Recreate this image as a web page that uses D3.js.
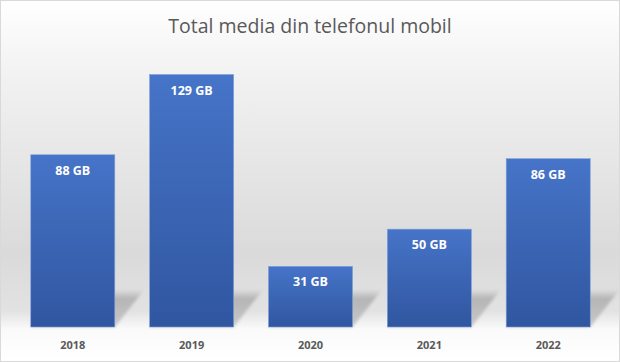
<!DOCTYPE html>
<html>
<head>
<meta charset="utf-8">
<script src="https://cdn.jsdelivr.net/npm/d3@7"></script>
<style>
  body { margin: 0; background: #fff; }
  svg { display: block; }
</style>
</head>
<body>
<svg id="chart"></svg>
<script>
var years = ['2018', '2019', '2020', '2021', '2022'];
var values = [88, 129, 31, 50, 86];
var labels = ['88 GB', '129 GB', '31 GB', '50 GB', '86 GB'];

var width = 620, height = 362;

var svg = d3.select('#chart')
	.attr('width', width)
	.attr('height', height);

var defs = svg.append('defs');

// background gradient, white at top, grey in the middle, white floor
var bg = defs.append('linearGradient')
	.attr('id', 'bg')
	.attr('x1', 0).attr('y1', 0).attr('x2', 0).attr('y2', 1);
bg.append('stop').attr('offset', '0%').attr('stop-color', '#ffffff');
bg.append('stop').attr('offset', '20%').attr('stop-color', '#f2f2f2');
bg.append('stop').attr('offset', '70%').attr('stop-color', '#dadada');
bg.append('stop').attr('offset', '86%').attr('stop-color', '#e2e2e2');
bg.append('stop').attr('offset', '91%').attr('stop-color', '#fafafa');
bg.append('stop').attr('offset', '100%').attr('stop-color', '#ffffff');

var barGrad = defs.append('linearGradient')
	.attr('id', 'bar')
	.attr('x1', 0).attr('y1', 0).attr('x2', 0).attr('y2', 1);
barGrad.append('stop').attr('offset', '0%').attr('stop-color', '#4674c8');
barGrad.append('stop').attr('offset', '100%').attr('stop-color', '#3056a0');

var shGrad = defs.append('linearGradient')
	.attr('id', 'sh')
	.attr('x1', 0).attr('y1', 0).attr('x2', 0).attr('y2', 1);
shGrad.append('stop').attr('offset', '0%').attr('stop-color', '#bdbdbd').attr('stop-opacity', 0);
shGrad.append('stop').attr('offset', '25%').attr('stop-color', '#b5b5b5').attr('stop-opacity', 1);
shGrad.append('stop').attr('offset', '100%').attr('stop-color', '#c4c4c4').attr('stop-opacity', 0.9);

defs.append('filter').attr('id', 'blur')
	.append('feGaussianBlur').attr('stdDeviation', 1.5);

svg.append('rect')
	.attr('x', 0.5).attr('y', 0.5)
	.attr('width', width - 1).attr('height', height - 1)
	.attr('fill', 'url(#bg)')
	.attr('stroke', '#d9d9d9');

var x = d3.scaleBand()
	.domain(years)
	.range([7, 614])
	.paddingInner(0.293)
	.paddingOuter(0.2);

var y = d3.scaleLinear()
	.domain([0, 140])
	.range([327, 53]);

svg.append('text')
	.attr('x', width / 2)
	.attr('y', 33)
	.attr('text-anchor', 'middle')
	.attr('font-family', 'Open Sans, sans-serif')
	.attr('font-size', 19.5)
	.attr('fill', '#595959')
	.text('Total media din telefonul mobil');

// shadows cast behind the bars
var shH = 38, shDx = 30;
svg.append('g').selectAll('path')
	.data(years)
	.join('path')
	.attr('d', function(d) {
		var x0 = x(d), x1 = x(d) + x.bandwidth(), b = y(0);
		return 'M' + x0 + ',' + b + 'L' + x1 + ',' + b +
			'L' + (x1 + shDx) + ',' + (b - shH) + 'L' + (x0 + shDx) + ',' + (b - shH) + 'Z';
	})
	.attr('fill', 'url(#sh)')
	.attr('filter', 'url(#blur)');

svg.append('g').selectAll('rect')
	.data(values)
	.join('rect')
	.attr('x', function(d, i) { return x(years[i]); })
	.attr('y', function(d) { return y(d); })
	.attr('width', x.bandwidth())
	.attr('height', function(d) { return y(0) - y(d); })
	.attr('fill', 'url(#bar)')
	.attr('stroke', '#7fa0dc')
	.attr('stroke-width', 0.6);

svg.append('g').selectAll('text')
	.data(values)
	.join('text')
	.attr('x', function(d, i) { return x(years[i]) + x.bandwidth() / 2; })
	.attr('y', function(d) { return y(d) + 20; })
	.attr('text-anchor', 'middle')
	.attr('font-family', 'Open Sans, sans-serif')
	.attr('font-weight', 'bold')
	.attr('font-size', 12.5)
	.attr('fill', '#ffffff')
	.text(function(d, i) { return labels[i]; });

var xAxis = svg.append('g')
	.attr('transform', 'translate(0,' + y(0) + ')')
	.call(d3.axisBottom(x).tickSize(0).tickPadding(14));
xAxis.select('.domain').remove();
xAxis.selectAll('text')
	.attr('font-family', 'Open Sans, sans-serif')
	.attr('font-weight', 'bold')
	.attr('font-size', 11)
	.attr('fill', '#595959');
</script>
</body>
</html>
